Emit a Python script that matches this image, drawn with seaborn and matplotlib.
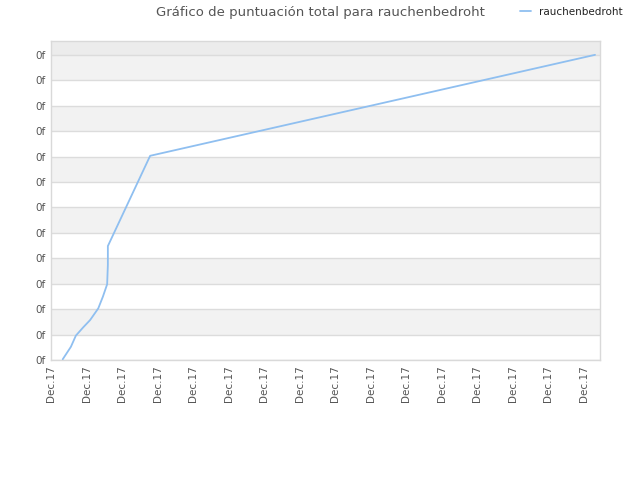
import pandas as pd
import seaborn as sns
import matplotlib.pyplot as plt

# posiciones en unidades de tick (eje x) y de grilla (eje y)
x_pos = [0.33, 0.56, 0.70, 0.91, 1.10, 1.33, 1.46, 1.58, 1.60, 1.60, 2.79, 15.31]
score = [0.03, 0.52, 0.96, 1.29, 1.57, 2.03, 2.49, 2.98, 3.74, 4.48, 8.03, 12.0]
x_ticks = list(range(16))
x_labels = ['Dec.17'] * 16
y_ticks = list(range(13))
y_labels = ['0f'] * 13
player = 'rauchenbedroht'

sns.set_style('white')
plt.rcParams['font.family'] = ['DejaVu Sans']

df = pd.DataFrame({'x': x_pos, 'score': score, 'player': player})

fig = plt.figure(figsize=(6.4, 4.8), dpi=100)
ax = fig.add_axes([0.0797, 0.25, 0.8578, 0.6649])

# bandas alternas
ymax = 12.55
for i in range(13):
    top = min(i + 1, ymax)
    if i % 2 == 1:
        ax.axhspan(i, top, color='#f2f2f2', zorder=0, lw=0)
ax.axhspan(12, ymax, color='#ececec', zorder=0, lw=0)
for y in y_ticks:
    ax.axhline(y, color='#dcdcdc', lw=1, zorder=1)

sns.lineplot(data=df, x='x', y='score', hue='player', palette=['#8fbff0'],
             linewidth=1.3, ax=ax, zorder=3, estimator=None, sort=False)

ax.set_xlim(0, 15.45)
ax.set_ylim(0, ymax)
ax.set_xticks(x_ticks)
ax.set_xticklabels(x_labels, rotation=90, fontsize=7.5, color='#555555')
ax.set_yticks(y_ticks)
ax.set_yticklabels(y_labels, fontsize=7.5, color='#555555')
ax.tick_params(length=0, pad=4)
ax.set_xlabel('')
ax.set_ylabel('')
for s in ax.spines.values():
    s.set_color('#d9d9d9')
    s.set_linewidth(1)

fig.text(0.5, 0.974, 'Gráfico de puntuación total para rauchenbedroht',
         ha='center', va='center', fontsize=9.5, color='#555555')
leg = ax.legend(loc='center', bbox_to_anchor=(0.893, 0.975), bbox_transform=fig.transFigure,
                frameon=False, fontsize=7.5, handlelength=1.0, handletextpad=0.8)
for t in leg.get_texts():
    t.set_color('#222222')

fig.savefig('out.png', dpi=100)
